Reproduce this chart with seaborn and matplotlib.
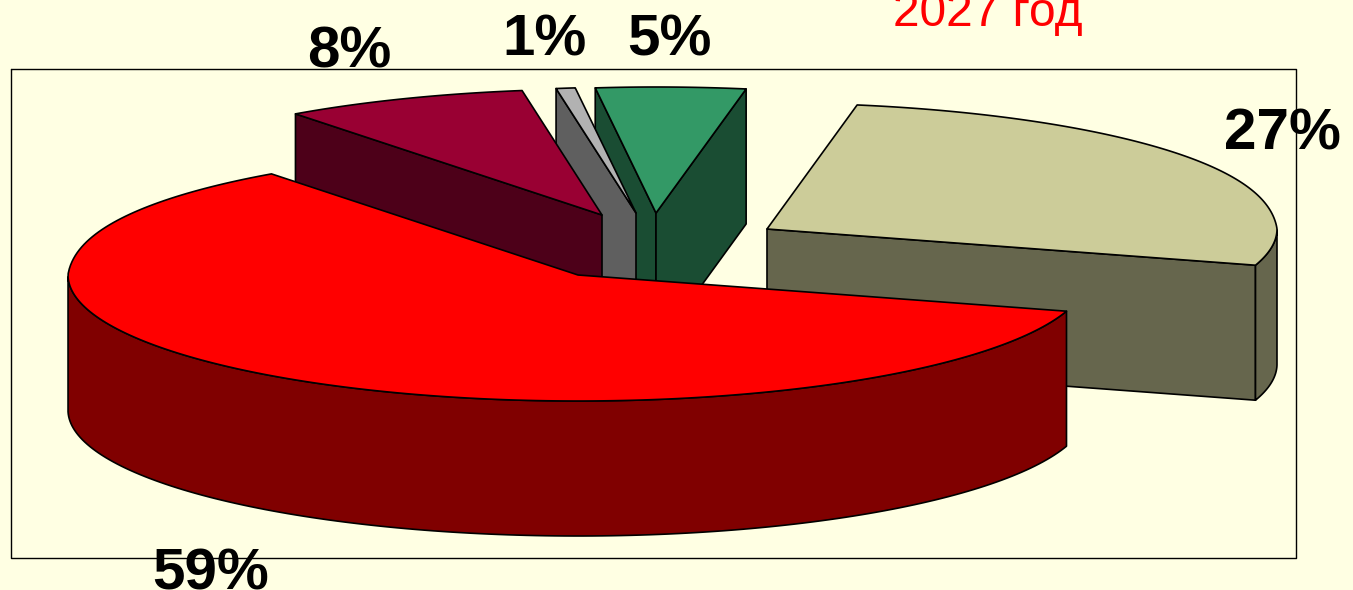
"""
Exploded 3D style pie, 2027 forecast shares.
"""

import numpy as np
import matplotlib.pyplot as plt
import seaborn as sns

# shares, clockwise from the back of the olive slice
categories = ["olive", "red", "wine", "grey", "green"]
shares = [26.5, 59.09, 8.49, 0.67, 5.25]
share_labels = ["27%", "59%", "8%", "1%", "5%"]
chart_title = "2027 год"

top_colors = ["#CCCC99", "#FF0000", "#990033", "#B2B2B2", "#339966"]
side_colors = ["#66664D", "#800000", "#4D0019", "#5F5F5F", "#1A4D33"]

# layout in picture pixels
BG = "#FFFFE3"
APEX = {"olive": (767, 229), "red": (578, 275), "wine": (602, 215),
        "grey": (636, 213), "green": (656, 213)}
LABEL_POS = {"olive": (1282, 135), "red": (211, 574), "wine": (349, 52),
             "grey": (544, 41), "green": (669, 41)}
DRAW_ORDER = ["olive", "green", "grey", "wine", "red"]
RX, RY, DEPTH = 510, 126, 135
START_ANGLE = 78.7

sns.set_theme(style="white")
plt.rcParams["font.family"] = ["Liberation Sans", "DejaVu Sans"]


def rim(apex, t):
    # ellipse with a little perspective squeeze towards the back
    s = np.sin(t)
    back = np.clip(s, 0, 1)
    x = apex[0] + RX * np.cos(t) * (1 - 0.1 * back)
    y = apex[1] - RY * np.sign(s) * np.abs(s) ** np.where(s > 0, 0.8, 1.0)
    return x, y


def draw_slice(ax, apex, t0, t1, top, side):
    ts = np.radians(np.linspace(t0, t1, 200))
    x, y = rim(apex, ts)
    kw = dict(edgecolor="black", linewidth=1.2, joinstyle="round")

    # a cut face only shows when it turns towards the viewer
    faces = []
    if np.cos(ts[0]) < 0:
        faces.append((x[0], y[0]))
    if np.cos(ts[-1]) > 0:
        faces.append((x[-1], y[-1]))
    for xe, ye in faces:
        ax.fill([apex[0], xe, xe, apex[0]],
                [apex[1], ye, ye + DEPTH, apex[1] + DEPTH],
                facecolor=side, **kw)

    # round outer wall on the front half of the rim
    wall = np.sin(ts) <= 0
    if wall.any():
        wx, wy = x[wall], y[wall]
        ax.fill(np.r_[wx, wx[::-1]], np.r_[wy, wy[::-1] + DEPTH],
                facecolor=side, **kw)
    ax.fill(np.r_[apex[0], x], np.r_[apex[1], y], facecolor=top, **kw)


def main():
    fig = plt.figure(figsize=(13.53, 5.90), dpi=100, facecolor=BG)
    ax = fig.add_axes([0, 0, 1, 1])
    ax.set_xlim(0, 1353)
    ax.set_ylim(590, 0)
    ax.axis("off")

    # plot area frame
    ax.plot([11, 1296, 1296, 11, 11], [69, 69, 558, 558, 69],
            color="black", linewidth=1)

    palette_top = dict(zip(categories, sns.color_palette(top_colors)))
    palette_side = dict(zip(categories, sns.color_palette(side_colors)))

    sweep = np.array(shares) / sum(shares) * 360
    ends = START_ANGLE - np.cumsum(sweep)
    starts = ends + sweep
    for name in DRAW_ORDER:
        i = categories.index(name)
        draw_slice(ax, APEX[name], starts[i], ends[i],
                   palette_top[name], palette_side[name])

    for name, label in zip(categories, share_labels):
        ax.text(*LABEL_POS[name], label, fontsize=42, fontweight="bold",
                ha="center", va="center", color="black")
    ax.text(988, 14, chart_title, fontsize=34.5, color="#FF0000",
            ha="center", va="center")

    fig.savefig("out.png", dpi=100, facecolor=BG)


if __name__ == "__main__":
    main()
